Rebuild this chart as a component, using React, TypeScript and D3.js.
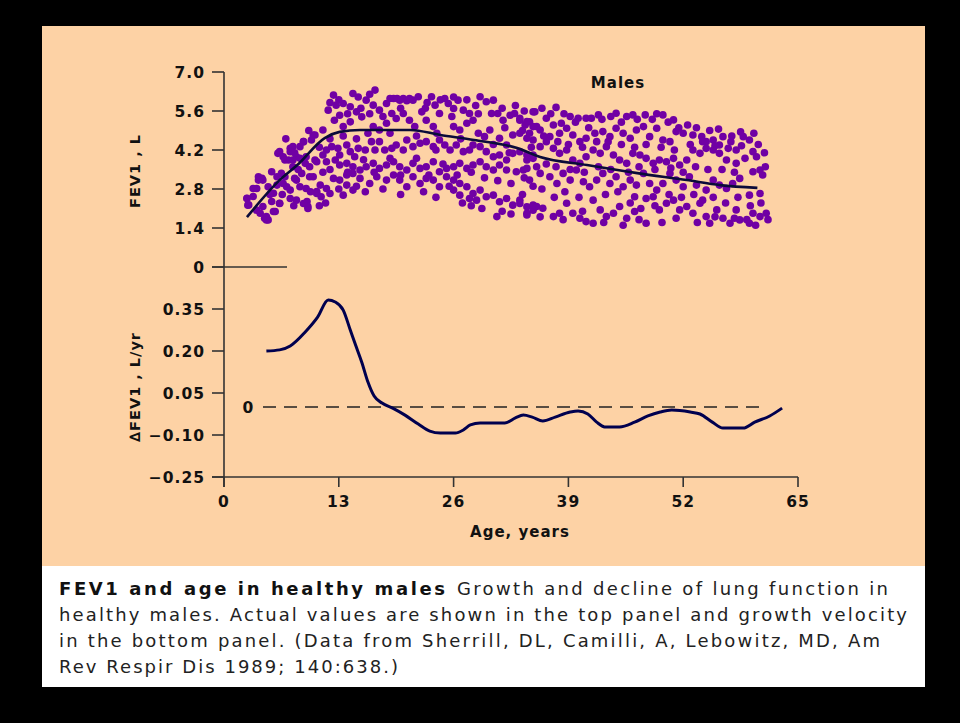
import React from "react";
import * as d3 from "d3";

const xTicks = [0, 13, 26, 39, 52, 65];
const fevTicks = [0, 1.4, 2.8, 4.2, 5.6, 7.0];
const velTicks = [-0.25, -0.1, 0.05, 0.2, 0.35];

const fevFit: [number, number][] = [
  [2.6, 1.79], [6.3, 3.12], [8.3, 3.66], [11.4, 4.63], [13.1, 4.85], [15.4, 4.92],
  [21.1, 4.92], [24.5, 4.74], [28.3, 4.56], [33.2, 4.27], [35.8, 3.95], [41.1, 3.66],
  [46.8, 3.37], [52.4, 3.12], [56.2, 2.94], [60.4, 2.84],
];

const velocity: [number, number][] = [
  [4.8, 0.2], [6.3, 0.204], [7.5, 0.218], [9.2, 0.268], [10.6, 0.321], [11.8, 0.382],
  [12.6, 0.375], [13.5, 0.346], [14.3, 0.275], [14.9, 0.221], [15.6, 0.16], [16.3, 0.089],
  [17.0, 0.039], [17.9, 0.014], [19.1, -0.004], [20.5, -0.029], [22.0, -0.061], [23.3, -0.086],
  [24.5, -0.093], [26.2, -0.093], [27.1, -0.082], [27.9, -0.064], [29.0, -0.057], [31.8, -0.057],
  [33.0, -0.039], [33.9, -0.029], [34.9, -0.036], [36.1, -0.05], [37.5, -0.036], [39.2, -0.018],
  [40.1, -0.014], [41.2, -0.025], [42.2, -0.054], [43.1, -0.071], [44.8, -0.071], [46.5, -0.054],
  [48.0, -0.032], [49.4, -0.018], [50.7, -0.011], [52.8, -0.018], [53.9, -0.025], [55.3, -0.054],
  [56.5, -0.075], [58.8, -0.075], [60.1, -0.054], [61.8, -0.032], [63.2, -0.004],
];

const scatterYoung: [number, number][] = [
  [2.6, 2.47], [2.8, 2.23], [3.3, 2.53], [3.7, 2.82], [3.9, 3.12], [4.3, 3.18], [4.4, 2.17],
  [4.8, 1.81], [5.0, 1.69], [5.4, 2.35], [5.6, 2.65], [5.8, 1.99], [6.0, 2.94], [6.3, 2.29],
  [6.5, 3.36], [6.1, 4.08], [6.7, 3.96], [6.9, 3.24], [7.1, 2.88], [7.3, 3.84], [7.5, 4.26],
  [7.8, 3.6], [8.0, 3.18], [8.2, 3.96], [8.6, 2.88], [9.0, 4.5], [9.2, 3.72], [9.4, 2.35],
  [9.5, 2.17], [9.7, 3.24], [10.1, 4.74], [10.3, 3.84], [10.5, 2.71],
];

const scatterUpper: [number, number][] = [
  [12.4, 6.17], [14.6, 6.23], [17.1, 6.35], [11.8, 5.63], [12.7, 5.81], [13.5, 5.87], [14.3, 5.75],
  [15.0, 5.57], [15.6, 5.39], [16.1, 5.99], [16.9, 5.81], [17.6, 5.63], [18.4, 5.87], [19.2, 6.05],
  [19.9, 5.99], [20.7, 5.97], [21.4, 5.99], [22.0, 6.11], [19.0, 5.51], [19.5, 5.33], [20.3, 5.51],
  [21.0, 5.27], [21.6, 5.04], [22.4, 5.57], [23.5, 6.11], [23.9, 5.81], [24.4, 5.51], [25.0, 6.05],
  [25.4, 5.87], [26.0, 5.69], [26.5, 5.99], [27.1, 5.63], [27.8, 5.51], [28.2, 5.27], [29.0, 6.11],
  [29.7, 5.93], [30.5, 5.99], [30.3, 5.51], [31.0, 5.51], [31.6, 5.27], [32.4, 5.45], [32.9, 5.51],
  [33.5, 5.27], [34.1, 5.1], [34.6, 5.21], [35.0, 5.57], [35.4, 5.04], [12.5, 5.27], [13.1, 5.45],
  [13.5, 5.04], [14.3, 5.21], [16.9, 5.04], [17.6, 4.92], [18.4, 5.16], [22.9, 5.27], [23.7, 5.04],
  [24.1, 4.8], [26.0, 5.04], [26.7, 4.92], [27.5, 5.16], [28.8, 4.8], [29.5, 4.68], [30.1, 4.92],
  [31.2, 4.62], [32.0, 4.38], [32.7, 4.74], [33.5, 4.8], [34.3, 4.62], [35.0, 4.56],
];

const scatterMiddle: [number, number][] = [
  [10.3, 4.74], [9.9, 4.56], [11.2, 4.92], [9.0, 4.5], [8.6, 4.32], [7.8, 4.32], [7.5, 4.14],
  [6.3, 4.14], [6.9, 3.84], [7.8, 3.84], [8.6, 3.9], [9.3, 3.96], [9.7, 3.6], [10.5, 3.78],
  [11.2, 4.02], [11.6, 4.2], [12.2, 4.32], [12.9, 4.26], [13.1, 4.02], [13.9, 4.38], [14.3, 4.14],
  [14.8, 3.96], [15.2, 4.26], [16.0, 4.2], [16.7, 4.5], [17.1, 4.2], [17.6, 4.5], [18.2, 4.2],
  [19.0, 4.26], [19.5, 4.38], [20.3, 4.2], [20.7, 4.56], [21.4, 4.32], [22.2, 4.44], [22.9, 4.5],
  [23.7, 4.32], [24.4, 4.56], [25.0, 4.38], [25.6, 4.2], [26.3, 4.38], [27.1, 4.14], [27.8, 4.2],
  [28.2, 4.38], [29.0, 4.32], [29.7, 4.14], [30.5, 3.96], [31.2, 4.02], [32.0, 3.84], [32.7, 4.08],
  [33.5, 4.14], [34.3, 4.02], [35.0, 3.9], [11.6, 3.78], [12.6, 3.84], [13.1, 3.66], [13.9, 3.72],
  [14.6, 3.6], [15.4, 3.48], [16.1, 3.6], [16.9, 3.72], [17.6, 3.54], [18.4, 3.66], [19.2, 3.78],
  [19.9, 3.6], [20.7, 3.48], [21.4, 3.72], [22.2, 3.54], [22.9, 3.6], [23.7, 3.78], [24.4, 3.42],
  [25.2, 3.54], [26.0, 3.6], [26.7, 3.72], [27.5, 3.54], [28.2, 3.66], [29.0, 3.78], [29.7, 3.6],
  [30.5, 3.48], [31.2, 3.66], [32.0, 3.48], [33.1, 3.42], [34.3, 3.54], [35.4, 3.6],
];

const scatterLower: [number, number][] = [
  [3.3, 2.82], [3.9, 3.24], [4.4, 3.12], [5.0, 2.88], [5.4, 3.42], [6.0, 3.24], [6.7, 3.0],
  [7.5, 2.76], [8.2, 3.12], [8.8, 3.36], [9.3, 2.82], [10.1, 3.24], [10.9, 2.94], [11.6, 2.82],
  [12.4, 3.18], [13.1, 3.12], [13.9, 2.94], [14.6, 2.76], [10.5, 2.64], [11.0, 2.52], [12.0, 2.64],
  [13.5, 2.58], [13.9, 3.3], [14.6, 3.36], [15.4, 3.18], [16.5, 3.0], [17.3, 3.24], [18.4, 3.12],
  [19.2, 3.3], [19.9, 3.12], [20.7, 2.88], [21.4, 3.24], [22.2, 3.0], [22.9, 3.18], [23.7, 3.12],
  [24.4, 2.88], [25.2, 3.24], [26.0, 3.12], [26.7, 3.0], [27.5, 2.88], [28.2, 2.64], [29.0, 2.76],
  [29.7, 2.52], [30.5, 2.58], [31.2, 2.34], [32.0, 2.46], [32.7, 2.22], [33.5, 2.28], [34.3, 2.16],
  [35.0, 2.04], [2.6, 2.46], [2.7, 2.22], [3.7, 2.04], [4.1, 1.93], [4.6, 1.75], [4.8, 1.69],
  [5.6, 1.99], [6.3, 2.28], [7.5, 2.46], [8.2, 2.4], [9.0, 2.28], [9.5, 2.1], [26.0, 2.76],
  [26.7, 2.58], [27.8, 2.46], [28.6, 2.4], [30.9, 1.81], [34.3, 1.87], [35.0, 2.22],
];

const scatterYoungExtra: [number, number][] = [
  [12.0, 5.9], [13.0, 6.0], [15.2, 6.1], [16.5, 6.2], [18.8, 6.05], [19.6, 6.05], [20.3, 6.05],
  [21.0, 6.05], [23.0, 5.9], [24.5, 6.0], [26.0, 6.1], [27.5, 6.0], [28.5, 5.8], [31.5, 5.7],
  [33.0, 5.8], [34.0, 5.6], [14.0, 5.5], [15.5, 5.7], [16.5, 5.5], [18.0, 5.4], [20.0, 5.7],
  [22.8, 5.7], [25.8, 5.4], [28.8, 5.5], [31.8, 5.0], [33.8, 4.9], [12.0, 4.6], [13.5, 4.7],
  [15.0, 4.6], [16.3, 4.8], [18.8, 4.8], [21.8, 4.7], [24.0, 4.2], [26.8, 4.6], [30.5, 4.4],
  [32.3, 4.1], [34.8, 4.3], [14.0, 3.4], [15.8, 3.85], [17.0, 3.4], [18.8, 3.9], [20.0, 3.3],
  [21.8, 3.9], [23.2, 3.3], [24.8, 3.7], [26.4, 3.3], [28.0, 3.4], [29.5, 3.2], [31.0, 3.1],
  [32.5, 3.0], [34.0, 3.2], [35.0, 2.9], [13.0, 2.8], [15.0, 2.9], [16.0, 2.7], [18.0, 2.8],
  [20.0, 2.6], [22.6, 2.7], [24.0, 2.5], [25.5, 2.9], [27.0, 2.3], [28.0, 2.2], [29.2, 2.1],
  [31.5, 2.0], [32.5, 1.9], [33.8, 2.6], [7.0, 4.6], [8.0, 4.1], [9.6, 4.9], [10.8, 4.3],
  [11.2, 3.4], [12.0, 3.5], [7.9, 2.2], [9.8, 2.7], [10.8, 2.2], [5.2, 2.6], [6.6, 2.6],
  [8.4, 3.5], [11.5, 2.3],
];

const scatterOlder: [number, number][] = [
  [35.2, 5.57], [37.6, 5.73], [33.5, 5.34], [34.3, 5.22], [35.0, 5.04], [36.5, 5.34], [37.3, 5.1],
  [38.2, 5.16], [39.2, 5.4], [40.1, 5.34], [41.0, 5.34], [41.6, 5.34], [42.4, 5.46], [44.4, 5.52],
  [45.6, 5.4], [46.3, 5.46], [47.7, 5.46], [49.7, 5.46], [50.9, 5.28], [34.6, 4.8], [35.8, 4.92],
  [36.9, 4.68], [38.0, 4.8], [38.8, 4.98], [39.5, 4.74], [40.3, 4.5], [41.0, 4.62], [42.0, 4.8],
  [42.9, 4.86], [43.7, 4.68], [44.4, 4.98], [45.2, 4.8], [46.0, 4.62], [46.7, 4.92], [47.5, 5.04],
  [48.2, 4.68], [49.0, 4.98], [49.7, 4.56], [50.5, 4.5], [51.2, 4.86], [52.0, 4.8], [53.1, 4.74],
  [54.1, 4.68], [54.6, 4.5], [55.4, 4.56], [56.1, 4.38], [56.5, 4.68], [57.1, 4.26], [58.0, 4.2],
  [58.8, 4.68], [59.5, 4.56], [59.9, 4.14], [60.3, 3.96], [61.0, 3.3], [60.7, 3.48], [59.9, 3.42],
  [58.0, 3.72], [56.9, 3.84], [56.1, 4.08], [55.4, 4.2], [54.6, 4.26], [53.9, 4.08], [53.1, 4.2],
  [52.4, 3.84], [51.6, 3.66], [50.9, 3.9], [50.1, 3.78], [49.3, 3.84], [48.6, 3.72], [47.8, 3.9],
  [47.1, 4.02], [46.3, 4.08], [45.6, 3.72], [44.8, 3.84], [44.1, 4.02], [43.3, 4.32], [42.6, 4.08],
  [41.8, 4.2], [41.0, 3.96], [40.3, 3.72], [39.5, 3.84], [38.8, 4.2], [38.0, 4.08], [37.3, 4.26],
  [36.5, 4.5], [35.8, 4.32], [35.0, 4.02], [34.3, 3.84], [33.9, 3.48], [34.6, 3.12], [35.8, 3.36],
  [36.9, 3.24], [37.7, 3.0], [38.4, 3.36], [39.2, 3.12], [39.9, 3.48], [40.7, 3.06], [41.4, 2.88],
  [42.2, 3.12], [42.9, 3.36], [43.7, 3.0], [44.4, 3.24], [45.2, 2.88], [46.0, 3.12], [46.7, 2.94],
  [47.5, 3.36], [48.2, 3.0], [49.0, 2.76], [49.7, 3.0], [50.5, 3.36], [51.2, 3.12], [52.0, 2.88],
  [52.7, 3.24], [53.5, 2.94], [54.6, 2.76], [55.4, 3.12], [56.1, 2.94], [56.9, 2.82], [57.6, 3.0],
  [58.4, 3.18], [59.5, 2.58], [60.7, 2.64], [33.5, 2.4], [34.3, 1.93], [35.4, 2.17], [36.1, 2.11],
  [37.3, 1.81], [38.0, 1.93], [38.8, 2.29], [39.5, 1.93], [40.3, 1.75], [41.0, 1.63], [41.8, 1.57],
  [42.6, 2.05], [43.3, 1.81], [44.1, 1.93], [44.8, 2.17], [45.6, 1.75], [46.5, 1.99], [46.5, 2.52],
  [47.8, 2.46], [47.8, 1.57], [48.6, 2.52], [49.3, 2.05], [50.1, 2.29], [50.9, 2.4], [51.6, 2.05],
  [52.4, 2.17], [53.1, 1.93], [53.9, 2.29], [54.6, 1.81], [55.0, 1.57], [55.8, 2.05], [56.5, 1.75],
  [57.3, 1.57], [58.0, 2.05], [58.4, 1.69], [59.5, 1.57], [59.9, 1.93], [60.7, 1.81], [61.4, 1.93],
];

const scatterOlderExtra: [number, number][] = [
  [36.0, 5.7], [37.0, 5.5], [38.5, 5.5], [39.8, 5.2], [41.3, 5.0], [42.8, 5.3], [43.8, 5.4],
  [45.0, 5.2], [46.8, 5.3], [48.5, 5.3], [49.0, 5.5], [50.3, 5.2], [51.5, 5.0], [52.5, 5.1],
  [53.5, 5.0], [55.0, 4.9], [56.0, 4.95], [57.5, 4.7], [58.5, 4.85], [60.0, 4.8], [36.2, 4.7],
  [37.8, 4.5], [39.0, 4.4], [40.6, 4.3], [42.2, 4.5], [43.5, 4.5], [45.0, 4.4], [46.5, 4.3],
  [47.8, 4.4], [49.5, 4.3], [51.0, 4.2], [52.8, 4.4], [54.2, 4.5], [55.6, 4.35], [57.4, 4.5],
  [58.6, 4.35], [60.5, 4.4], [61.2, 4.1], [36.5, 3.7], [37.6, 3.6], [39.2, 3.5], [40.8, 3.4],
  [42.4, 3.6], [43.8, 3.5], [45.8, 3.4], [47.0, 3.6], [48.8, 3.5], [50.6, 3.55], [52.0, 3.4],
  [53.4, 3.6], [54.8, 3.5], [56.4, 3.5], [57.8, 3.4], [59.0, 3.9], [61.3, 3.6], [36.0, 2.8],
  [37.4, 2.5], [38.6, 2.7], [40.2, 2.5], [41.8, 2.4], [43.2, 2.6], [44.6, 2.7], [46.0, 2.3],
  [47.2, 2.1], [48.8, 2.2], [50.4, 2.6], [51.8, 2.5], [53.2, 2.6], [54.2, 2.4], [55.4, 2.5],
  [56.8, 2.3], [58.2, 2.5], [59.6, 2.2], [60.8, 2.3], [61.6, 1.7], [35.8, 1.8], [38.4, 1.7],
  [40.6, 2.0], [43.0, 1.6], [45.2, 1.5], [47.0, 1.7], [49.6, 1.6], [51.2, 1.75], [53.6, 1.6],
  [55.6, 1.8], [57.8, 1.75], [59.2, 1.7], [60.2, 1.5],
];

const captionTitle = "FEV1 and age in healthy males";
const captionLines = [
  "Growth and decline of lung function in",
  "healthy males. Actual values are shown in the top panel and growth velocity",
  "in the bottom panel. (Data from Sherrill, DL, Camilli, A, Lebowitz, MD, Am",
  "Rev Respir Dis 1989; 140:638.)",
];

const allScatter = [
  ...scatterYoung, ...scatterUpper, ...scatterMiddle, ...scatterLower, ...scatterYoungExtra,
  ...scatterOlder, ...scatterOlderExtra,
];

export default function App() {
  const x = d3.scaleLinear().domain([0, 65]).range([224, 798]);
  const yTop = d3.scaleLinear().domain([0, 7]).range([267, 72]);
  const yBot = d3.scaleLinear().domain([-0.25, 0.35]).range([477, 309]);

  const fitLine = d3.line<[number, number]>().x((d) => x(d[0])).y((d) => yTop(d[1])).curve(d3.curveMonotoneX);
  const velLine = d3.line<[number, number]>().x((d) => x(d[0])).y((d) => yBot(d[1])).curve(d3.curveMonotoneX);

  const axisFont = "'DejaVu Sans', Verdana, sans-serif";
  const axisColor = "#333";
  const xAxisY = yBot(-0.25);
  const tickFs = 15.5;

  return (
    <div style={{ position: "fixed", left: 0, top: 0, width: 960, height: 723, background: "#000" }}>
      <svg width={960} height={723} style={{ display: "block" }}>
        <rect x={0} y={0} width={960} height={723} fill="#000" />
        <rect x={42} y={26} width={883} height={540} fill="#fdd2a5" />
        <rect x={42} y={566} width={883} height={121} fill="#ffffff" />

        <g fill="#7000a4">
          {allScatter.map((d, i) => (
            <circle key={i} cx={x(d[0])} cy={yTop(d[1])} r={3.8} />
          ))}
        </g>
        <path d={fitLine(fevFit) || ""} fill="none" stroke="#0b0b3a" strokeWidth={2.6} />

        <line x1={224} x2={224} y1={yTop(7)} y2={xAxisY + 10} stroke={axisColor} strokeWidth={1.6} />
        {fevTicks.map((t) => (
          <g key={"f" + t}>
            <line x1={212} x2={224} y1={yTop(t)} y2={yTop(t)} stroke={axisColor} strokeWidth={1.6} />
            <text x={205} y={yTop(t)} dy="0.36em" textAnchor="end" fontFamily={axisFont} fontWeight="bold" fontSize={tickFs} letterSpacing={1} fill="#111">
              {t === 0 ? "0" : t.toFixed(1)}
            </text>
          </g>
        ))}
        <line x1={212} x2={287} y1={yTop(0)} y2={yTop(0)} stroke={axisColor} strokeWidth={1.6} />

        {velTicks.map((t) => (
          <g key={"v" + t}>
            <line x1={212} x2={224} y1={yBot(t)} y2={yBot(t)} stroke={axisColor} strokeWidth={1.6} />
            <text x={205} y={yBot(t)} dy="0.36em" textAnchor="end" fontFamily={axisFont} fontWeight="bold" fontSize={tickFs} letterSpacing={1} fill="#111">
              {(t < 0 ? "\u2212" : "") + Math.abs(t).toFixed(2)}
            </text>
          </g>
        ))}

        <line x1={212} x2={x(65)} y1={xAxisY} y2={xAxisY} stroke={axisColor} strokeWidth={1.6} />
        {xTicks.map((t) => (
          <g key={"x" + t}>
            <line x1={x(t)} x2={x(t)} y1={xAxisY} y2={xAxisY + 10} stroke={axisColor} strokeWidth={1.6} />
            <text x={x(t)} y={507} textAnchor="middle" fontFamily={axisFont} fontWeight="bold" fontSize={tickFs} letterSpacing={1} fill="#111">
              {t}
            </text>
          </g>
        ))}

        <line x1={263} x2={767} y1={yBot(0)} y2={yBot(0)} stroke="#222" strokeWidth={1.6} strokeDasharray="13 8" />
        <text x={248} y={yBot(0)} dy="0.36em" textAnchor="middle" fontFamily={axisFont} fontWeight="bold" fontSize={tickFs} fill="#111">0</text>

        <path d={velLine(velocity) || ""} fill="none" stroke="#00004f" strokeWidth={3} />

        <text x={618} y={88} textAnchor="middle" fontFamily={axisFont} fontWeight="bold" fontSize={15} letterSpacing={1} fill="#111">Males</text>
        <text x={520} y={537} textAnchor="middle" fontFamily={axisFont} fontWeight="bold" fontSize={15} letterSpacing={1} fill="#111">Age, years</text>
        <text transform="translate(140,171) rotate(-90)" textAnchor="middle" fontFamily={axisFont} fontWeight="bold" fontSize={14.5} letterSpacing={1} fill="#111">FEV1 , L</text>
        <text transform="translate(140,387) rotate(-90)" textAnchor="middle" fontFamily={axisFont} fontWeight="bold" fontSize={14.5} letterSpacing={1} fill="#111">{"\u2206FEV1 , L/yr"}</text>

        <text x={59} y={595} fontFamily={axisFont} fontSize={18} fill="#111">
          <tspan fontWeight="bold" textLength={386} lengthAdjust="spacing">{captionTitle}</tspan>
        </text>
        <text x={457} y={595} fontFamily={axisFont} fontSize={18} fill="#222" textLength={431} lengthAdjust="spacing">{captionLines[0]}</text>
        <text x={59} y={621} fontFamily={axisFont} fontSize={18} fill="#222" textLength={848} lengthAdjust="spacing">{captionLines[1]}</text>
        <text x={59} y={647} fontFamily={axisFont} fontSize={18} fill="#222" textLength={821} lengthAdjust="spacing">{captionLines[2]}</text>
        <text x={59} y={673} fontFamily={axisFont} fontSize={18} fill="#222" textLength={339} lengthAdjust="spacing">{captionLines[3]}</text>
      </svg>
    </div>
  );
}
